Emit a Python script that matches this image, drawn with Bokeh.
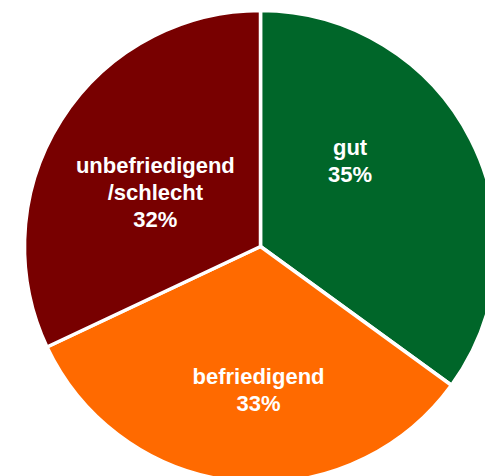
import math
from bokeh.plotting import figure
from bokeh.models import ColumnDataSource
from bokeh.core.properties import value
from bokeh.embed import file_html
from bokeh.resources import INLINE

# data
categories = ["gut", "befriedigend", "unbefriedigend\n/schlecht"]
shares = [35, 33, 32]
colors = ["#006629", "#FF6A00", "#780000"]

# label anchors (polar, in units of the radius) - layout only
label_angle_deg = [43.7, -90.8, 153.0]
label_radius = [0.525, 0.606, 0.50]

W, H = 485, 476
CX, CY = 260, 246  # pie centre in figure pixels
R = 236.0           # pie radius in pixels

total = float(sum(shares))
starts, ends = [], []
a = math.pi / 2
for s in shares:
    starts.append(a)
    a -= 2 * math.pi * s / total
    ends.append(a)

src = ColumnDataSource(dict(cat=categories, share=shares, color=colors,
                            start=starts, end=ends))

lx = [r * math.cos(math.radians(t)) for r, t in zip(label_radius, label_angle_deg)]
ly = [r * math.sin(math.radians(t)) for r, t in zip(label_radius, label_angle_deg)]
labels = [f"{c}\n{s}%" for c, s in zip(categories, shares)]
lsrc = ColumnDataSource(dict(x=lx, y=ly, text=labels))

p = figure(width=W, height=H, output_backend="svg", toolbar_location=None,
           x_range=(-CX / R, (W - CX) / R), y_range=(-(H - CY) / R, CY / R),
           min_border=0, outline_line_color=None)
p.axis.visible = False
p.grid.visible = False
p.background_fill_color = "white"
p.border_fill_color = "white"

p.wedge(x=0, y=0, radius=1, start_angle="start", end_angle="end",
        direction="clock", fill_color="color", line_color="white",
        line_width=3.5, source=src)

p.text(x="x", y="y", text="text", source=lsrc, text_color="white",
       text_font=value("Liberation Sans"), text_font_style="bold",
       text_font_size="22px", text_align="center", text_baseline="middle",
       text_line_height=1.08)

open("out.html", "w").write(file_html(p, INLINE))
